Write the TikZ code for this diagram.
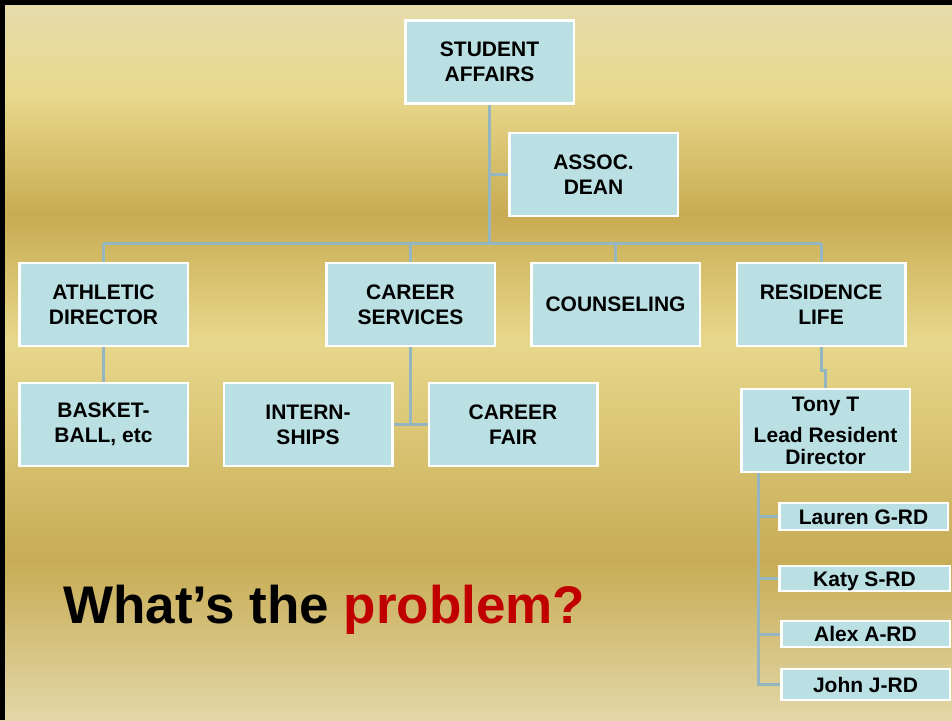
\documentclass[tikz,border=0pt]{standalone}
\usepackage{fontspec}
\setmainfont{Liberation Sans}
\definecolor{goldA}{HTML}{E6DCAD}
\definecolor{goldB}{HTML}{E8D88C}
\definecolor{goldC}{HTML}{C8AB52}
\definecolor{goldD}{HTML}{E8D88C}
\definecolor{goldE}{HTML}{C8AC55}
\definecolor{goldF}{HTML}{E2D7A7}
\definecolor{boxblue}{HTML}{BAE0E4}
\definecolor{linkblue}{HTML}{93B6C0}
\definecolor{problemred}{HTML}{C00000}
\pgfdeclarelayer{back}
\pgfdeclarelayer{links}
\pgfsetlayers{back,links,main}
\begin{document}
\begin{tikzpicture}[x=1pt,y=-1pt,
  orgbox/.style={draw=white,line width=2.5pt,fill=boxblue,inner sep=0pt,
    align=center,font=\bfseries\fontsize{21}{25}\selectfont},
  bigbox/.style={orgbox,minimum width=168.5pt,minimum height=83pt},
  rdbox/.style={orgbox,minimum width=168.5pt,text height=15pt,text depth=0pt},
  link/.style={draw=linkblue,line width=3pt},
]
\useasboundingbox (0,0) rectangle (952,720);

% gold metallic backdrop, built from vertical bands
\begin{pgfonlayer}{back}
  \shade[top color=goldA,bottom color=goldB] (0,0) rectangle (952,95.5);
  \shade[top color=goldB,bottom color=goldC] (0,95) rectangle (952,215.5);
  \shade[top color=goldC,bottom color=goldD] (0,215) rectangle (952,340.5);
  \shade[top color=goldD,bottom color=goldE] (0,340) rectangle (952,560.5);
  \shade[top color=goldE,bottom color=goldF] (0,560) rectangle (952,720);
  \fill[black] (0,0) rectangle (952,5);
  \fill[black] (0,0) rectangle (5,720);
\end{pgfonlayer}

% organisation boxes
\node[bigbox] (sa)     at (489.5,62)   {STUDENT\\AFFAIRS};
\node[bigbox] (assoc)  at (593.5,174.5){ASSOC.\\DEAN};
\node[bigbox] (ath)    at (103.5,304.5){ATHLETIC\\DIRECTOR};
\node[bigbox] (cs)     at (410.5,304.5){CAREER\\SERVICES};
\node[bigbox] (couns)  at (615.5,304.5){COUNSELING};
\node[bigbox] (res)    at (821,304.5)  {RESIDENCE\\LIFE};
\node[bigbox] (bball)  at (103.5,424.5){BASKET-\\BALL, etc};
\node[bigbox] (intern) at (308,424.5)  {INTERN-\\SHIPS};
\node[bigbox] (fair)   at (513,424.5)  {CAREER\\FAIR};
\node[bigbox,font=\bfseries\fontsize{21}{22}\selectfont] (tony) at (825.5,430.5)
  {Tony T\\[9pt]Lead Resident\\Director};
\node[rdbox,minimum height=27pt] (lauren) at (863.5,516.5) {Lauren G-RD};
\node[rdbox,minimum width=170.5pt,minimum height=25pt] (katy) at (864.5,578.5) {Katy S-RD};
\node[rdbox,minimum height=26pt] (alex)   at (865.5,634)   {Alex A-RD};
\node[rdbox,minimum height=31pt] (john)   at (865.5,684.5) {John J-RD};

% connectors
\begin{pgfonlayer}{links}
  \coordinate (bus) at (sa.south |- 0,243);
  \draw[link] (sa.south) -- (bus);
  \draw[link] (assoc.west) -- (assoc.west -| sa.south);
  \draw[link] (ath.north |- bus) -- (res.north |- bus);
  \draw[link] (ath.north |- bus) -- (ath.north);
  \draw[link] (cs.north |- bus) -- (cs.north);
  \draw[link] (couns.north |- bus) -- (couns.north);
  \draw[link] (res.north |- bus) -- (res.north);
  \draw[link] (ath.south) -- (bball.north);
  \draw[link] (cs.south) -- (cs.south |- intern.east);
  \draw[link] (intern.east) -- (fair.west);
  \draw[link] (res.south) -- ++(0,23) -| (tony.north);
  \path (tony.south west) ++(18,0) coordinate (spine);
  \draw[link] (spine) |- (john.west);
  \draw[link] (spine |- lauren.west) -- (lauren.west);
  \draw[link] (spine |- katy.west) -- (katy.west);
  \draw[link] (spine |- alex.west) -- (alex.west);
\end{pgfonlayer}

% question line
\node[anchor=base west,inner sep=0pt,font=\bfseries\fontsize{53}{60}\selectfont]
  (question) at (63,623) {What’s the \textcolor{problemred}{problem?}};
\end{tikzpicture}
\end{document}
